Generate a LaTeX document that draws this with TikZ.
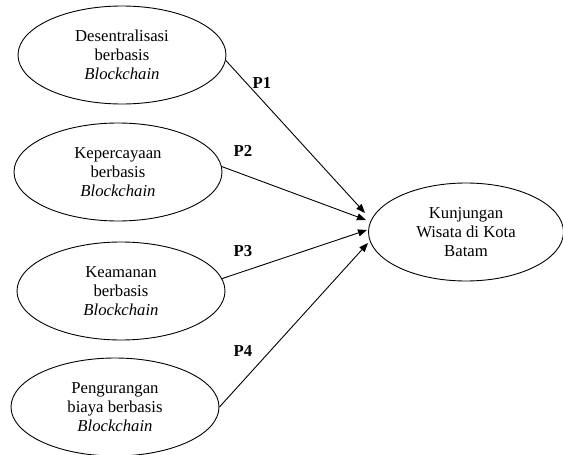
\documentclass[tikz,border=0pt]{standalone}
\usepackage{fontspec}
\setmainfont{Liberation Serif}
\usetikzlibrary{shapes.geometric,arrows.meta}
\begin{document}
\begin{tikzpicture}[x=1pt,y=-1pt,
  every node/.style={font=\fontsize{16.7}{19}\selectfont},
  var/.style={ellipse,draw,line width=0.9pt,inner sep=0pt,align=center,
              minimum width=208pt,minimum height=98pt},
  path/.style={draw,line width=0.9pt,-{Triangle[length=9pt,width=7pt]}},
  plabel/.style={font=\fontsize{16.7}{19}\selectfont\bfseries}]
\useasboundingbox (0,0) rectangle (563,455);
\node[var] (E1) at (122,55) {Desentralisasi\\berbasis\\\textit{Blockchain}};
\node[var] (E2) at (118,172) {Kepercayaan\\berbasis\\\textit{Blockchain}};
\node[var] (E3) at (121,291) {Keamanan\\berbasis\\\textit{Blockchain}};
\node[var] (E4) at (115,407) {Pengurangan\\biaya berbasis\\\textit{Blockchain}};
\node[var,minimum width=195pt] (T) at (466,232) {Kunjungan\\Wisata di Kota\\Batam};
\coordinate (t1) at (365,213);
\coordinate (t2) at (366,220);
\coordinate (t3) at (367,230);
\coordinate (t4) at (368,243);
\draw[path] (E1.-3) -- (t1);
\draw[path] (E2.3) -- (t2);
\draw[path] (E3.7) -- (t3);
\draw[path] (E4.east) -- (t4);
\node[plabel] (L1) at (262,83) {P1};
\node[plabel] (L2) at (243,151) {P2};
\node[plabel] (L3) at (243,251) {P3};
\node[plabel] (L4) at (243,351) {P4};
\end{tikzpicture}
\end{document}
